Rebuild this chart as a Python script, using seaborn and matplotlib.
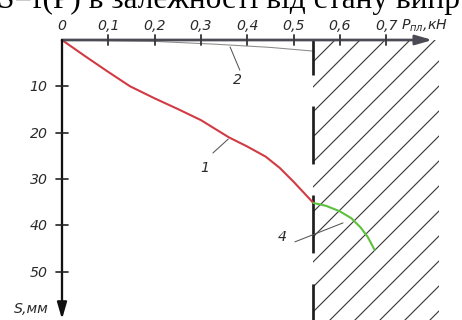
import numpy as np
import matplotlib
matplotlib.use("Agg")
import matplotlib.pyplot as plt
import seaborn as sns

# ── data ────────────────────────────────────────────────────────────────────
# curve 1: load P (kN) vs deflection S (mm) up to the limit load
p_curve1 = [0.0, 0.05, 0.10, 0.147, 0.20, 0.25, 0.30, 0.36, 0.40, 0.44, 0.47, 0.50, 0.543]
s_curve1 = [0.0, 3.5, 6.9, 10.0, 12.6, 14.9, 17.3, 21.0, 23.0, 25.2, 27.6, 30.6, 35.2]

# curve 4: beyond the limit load (inside the hatched zone)
p_curve4 = [0.543, 0.57, 0.60, 0.625, 0.645, 0.66, 0.675]
s_curve4 = [35.2, 35.8, 37.0, 38.5, 40.5, 42.5, 45.3]

# curve 2: thin line just under the load axis
p_curve2 = [0.0, 0.20, 0.33, 0.45, 0.543]
s_curve2 = [0.0, 0.3, 0.9, 1.6, 2.4]

p_limit = 0.543

x_ticks = [0.0, 0.1, 0.2, 0.3, 0.4, 0.5, 0.6, 0.7]
x_tick_labels = ["0", "0,1", "0,2", "0,3", "0,4", "0,5", "0,6", "0,7"]
y_ticks = [10, 20, 30, 40, 50]
y_tick_labels = ["10", "20", "30", "40", "50"]

# callout labels: (text, label position, leader start, leader end)
callouts = [
    ("1", (0.309, 27.6), (0.326, 24.4), (0.359, 21.4)),
    ("2", (0.378, 8.6), (0.384, 6.5), (0.363, 1.5)),
    ("4", (0.475, 42.5), (0.503, 43.6), (0.607, 39.5)),
]

title_text = "S=f(P) в залежності від стану випр"

# ── style ───────────────────────────────────────────────────────────────────
sns.set_theme(style="white")
plt.rcParams["font.family"] = ["DejaVu Sans"]
plt.rcParams["lines.scale_dashes"] = False
plt.rcParams["hatch.linewidth"] = 0.55

DPI = 150
fig = plt.figure(figsize=(462 / DPI, 320 / DPI), dpi=DPI)
ax = fig.add_axes([0, 0, 1, 1])
ax.set_facecolor("white")

# pixel mapping: origin at (62, 40), 463 px per 1 kN, 4.63 px per mm
ax.set_xlim(-62 / 463, 400 / 463)
ax.set_ylim(280 / 4.63, -40 / 4.63)

TICK_FONT = dict(style="italic", size=6.8, color="#2a2a2a")

# hatched zone beyond the limit load
ax.fill_betweenx([0, 61], p_limit, 0.815, facecolor="none", edgecolor="#3a3a3a",
                 linewidth=0, hatch="//", zorder=1)

# limit load line (long dashes)
ax.plot([p_limit, p_limit], [0, 61], color="#1e1e1e", lw=1.3,
        linestyle=(11, (27.8, 14.9)), zorder=3)

# curves
sns.lineplot(x=p_curve2, y=s_curve2, ax=ax, color="#8a8a8a", lw=0.5, sort=False, zorder=2)
sns.lineplot(x=p_curve1, y=s_curve1, ax=ax, color="#d23a44", lw=1.0, sort=False, zorder=4)
sns.lineplot(x=p_curve4, y=s_curve4, ax=ax, color="#5cc03c", lw=1.0, sort=False, zorder=4)

# axes as arrows
ax.annotate("", xy=(0.80, 0), xytext=(0, 0),
            arrowprops=dict(arrowstyle="-|>,head_length=0.55,head_width=0.16",
                            color="#4b4b55", lw=1.3, shrinkA=0, shrinkB=0), zorder=5)
ax.annotate("", xy=(0, 60.3), xytext=(0, 0),
            arrowprops=dict(arrowstyle="-|>,head_length=0.55,head_width=0.16",
                            color="#111111", lw=1.1, shrinkA=0, shrinkB=0), zorder=5)

# ticks along the axes
for xt, lab in zip(x_ticks, x_tick_labels):
    if xt > 0:
        ax.plot([xt, xt], [-1.0, 1.0], color="#3a3a3a", lw=0.9, zorder=5)
    ax.text(xt, -2.2, lab, ha="center", va="baseline", **TICK_FONT)
for yt, lab in zip(y_ticks, y_tick_labels):
    ax.plot([-0.012, 0.012], [yt, yt], color="#222222", lw=0.8, zorder=5)
    ax.text(-0.031, yt + 1.1, lab, ha="right", va="baseline", **TICK_FONT)

ax.text(0.732, -2.2, "$P_{пл}$,кН", ha="left", va="baseline", **TICK_FONT)
ax.text(-0.028, 59.0, "S,мм", ha="right", va="baseline", **TICK_FONT)

# callouts
for lab, pos, start, end in callouts:
    ax.plot([start[0], end[0]], [start[1], end[1]], color="#555555", lw=0.5, zorder=3)
    ax.text(pos[0], pos[1], lab, ha="center", va="center", **TICK_FONT)

# cut-off caption line at the top of the image
fig.text(-0.006, 0.975, title_text, ha="left", va="baseline",
         family=["Liberation Serif"], size=15, color="black")

ax.set_axis_off()
fig.savefig("out.png", dpi=DPI, facecolor="white")
